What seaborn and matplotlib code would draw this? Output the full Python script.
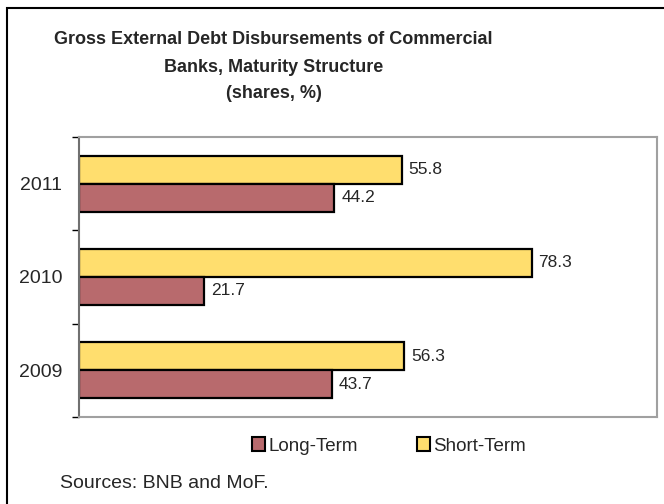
import pandas as pd
import matplotlib.pyplot as plt
import seaborn as sns
from matplotlib.patches import Rectangle, Patch

# Data
years = ['2011', '2010', '2009']
long_term = [44.2, 21.7, 43.7]
short_term = [55.8, 78.3, 56.3]

df = pd.DataFrame({
    'Year': years * 2,
    'Share': short_term + long_term,
    'Maturity': ['Short-Term'] * 3 + ['Long-Term'] * 3,
})

sns.set_style('white')
plt.rcParams['font.family'] = ['Liberation Sans', 'DejaVu Sans']

colors = {'Long-Term': '#b86a6d', 'Short-Term': '#ffde6e'}

W, H = 664, 504
fig = plt.figure(figsize=(W / 100, H / 100), dpi=100)
ax = fig.add_axes([79 / W, 1 - 417 / H, (657 - 79) / W, (417 - 137) / H])

sns.barplot(data=df, y='Year', x='Share', hue='Maturity', order=years,
            hue_order=['Short-Term', 'Long-Term'], palette=colors, saturation=1,
            orient='h', width=0.6, edgecolor='black', linewidth=1.6,
            legend=False, ax=ax)

for c in ax.containers:
    ax.bar_label(c, fmt='%.1f', padding=5, fontsize=12.5)

ax.set_xlim(0, 100)
ax.set_ylim(2.5, -0.5)
ax.set_xticks([])
ax.set_xlabel('')
ax.set_ylabel('')
ax.set_yticks([0, 1, 2])
ax.set_yticklabels(years, fontsize=14)
ax.set_yticks([-0.5, 0.5, 1.5, 2.5], minor=True)
ax.tick_params(axis='y', which='major', length=0, pad=12)
ax.tick_params(axis='y', which='minor', length=5, width=1, color='black', direction='out', left=True)

for side in ['top', 'right', 'bottom']:
    ax.spines[side].set_color('#a0a0a0')
    ax.spines[side].set_linewidth(1.5)
ax.spines['left'].set_color('#707070')
ax.spines['left'].set_linewidth(1.5)

title_lines = ['Gross External Debt Disbursements of Commercial',
               'Banks, Maturity Structure', '(shares, %)']
for line, y in zip(title_lines, [39, 67, 94]):
    fig.text(273.5 / W, 1 - y / H, line, ha='center', va='center',
             fontsize=13, fontweight='bold')

handles = [Patch(facecolor=colors['Long-Term'], edgecolor='black', linewidth=1.5),
           Patch(facecolor=colors['Short-Term'], edgecolor='black', linewidth=1.5)]
fig.legend(handles, ['Long-Term', 'Short-Term'], loc='center left',
           bbox_to_anchor=(252 / W, 1 - 446 / H), ncol=2, frameon=False,
           fontsize=13.5, handlelength=0.7, handleheight=0.7, handletextpad=0.2,
           columnspacing=3.1, borderaxespad=0, borderpad=0)

fig.text(60 / W, 1 - 483 / H, 'Sources: BNB and MoF.', ha='left', va='center', fontsize=14)

fig.patches.append(Rectangle((7 / W, -0.1), 1.2, 1.1 - 8 / H, transform=fig.transFigure,
                             fill=False, edgecolor='black', linewidth=1.5))

fig.savefig('out.png', dpi=100)
